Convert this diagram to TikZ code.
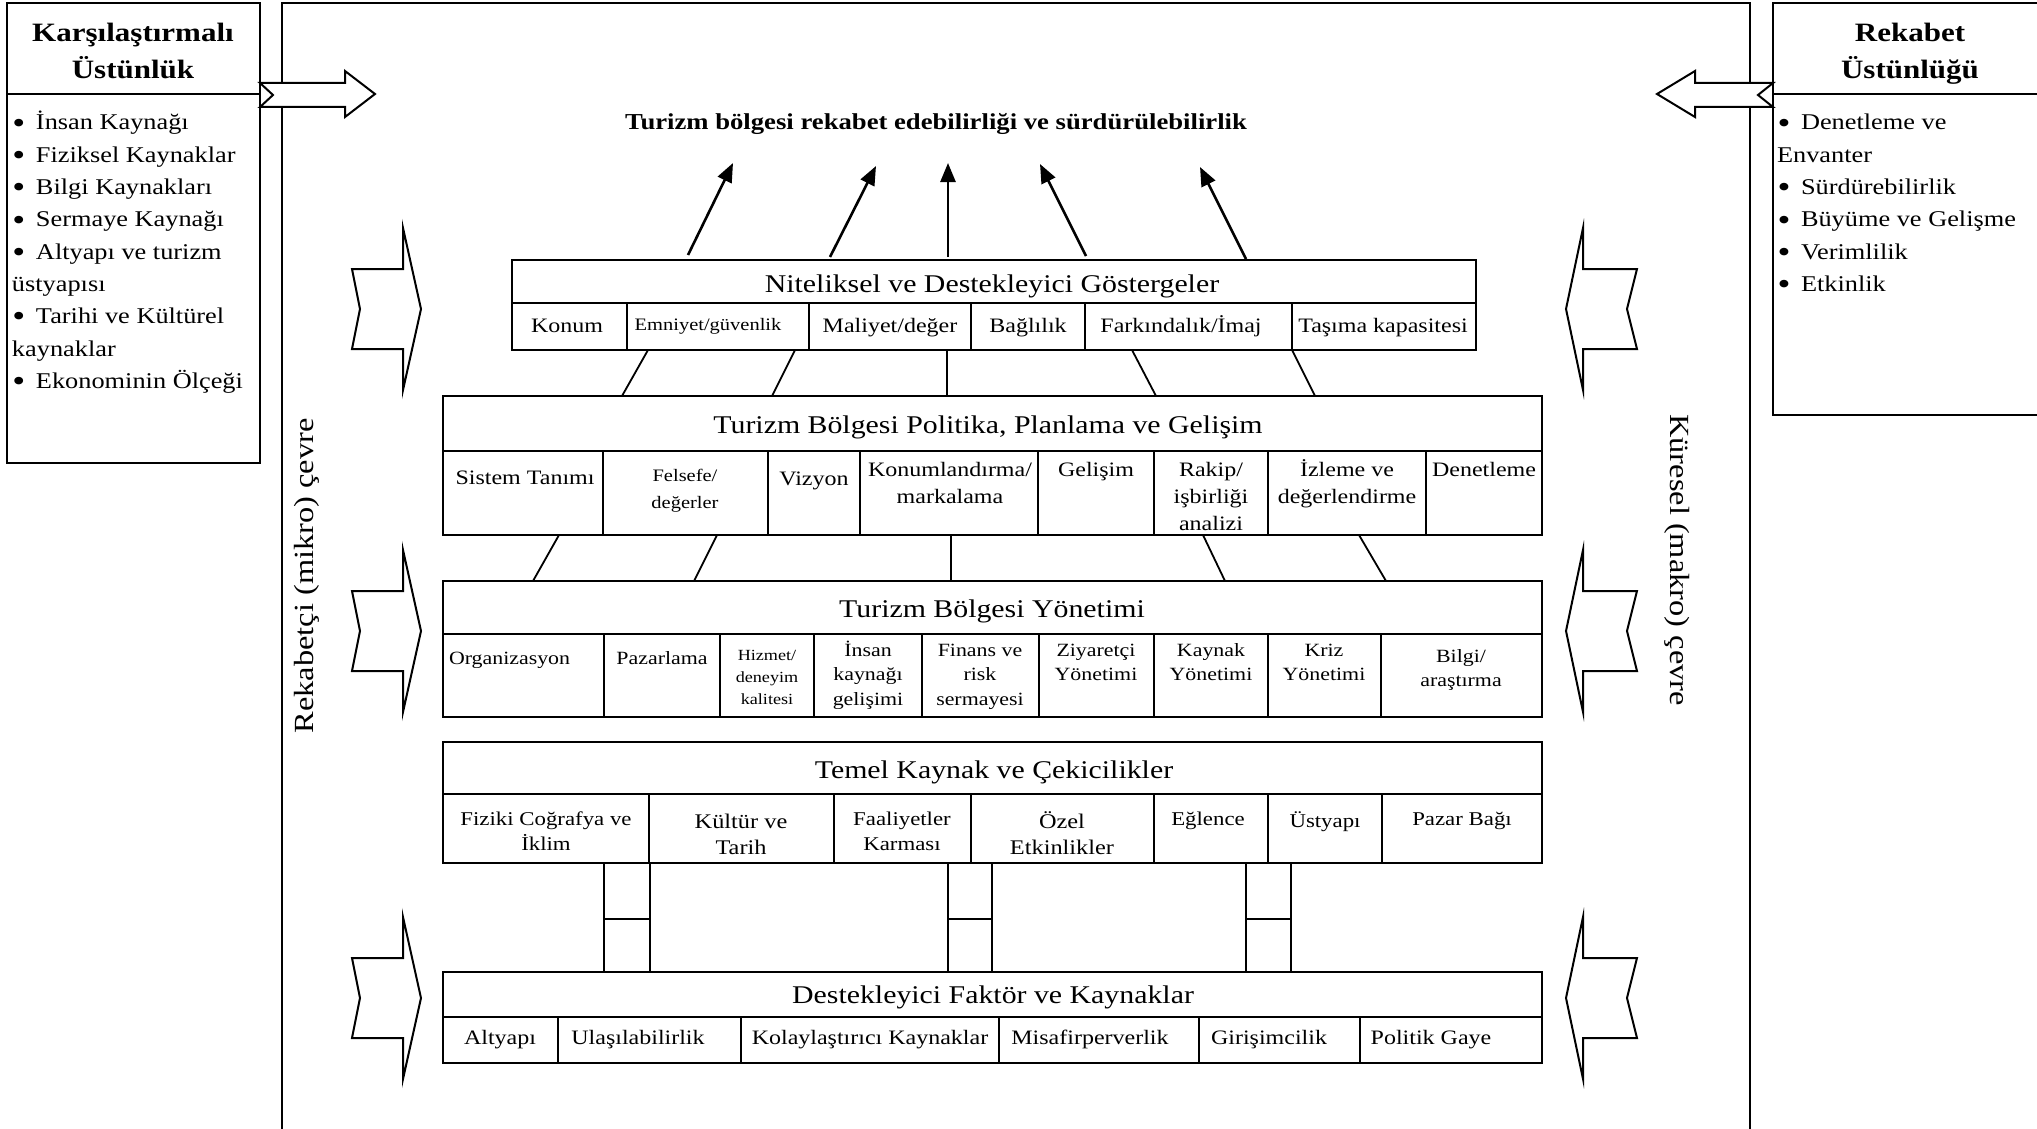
\documentclass[tikz,border=0pt]{standalone}
\usepackage{fontspec}
\usepackage{graphicx}
\setmainfont{Liberation Serif}[FakeStretch=1.17]
\usetikzlibrary{arrows.meta}

\newcommand\fsz[2]{\fontsize{#1pt}{#2pt}\selectfont}
\newcommand\ml[1]{\begin{tabular}[t]{@{}c@{}}#1\end{tabular}}
\newcommand\mll[1]{\begin{tabular}[t]{@{}l@{}}#1\end{tabular}}
\newcommand\bul{\makebox[24pt][l]{\hspace{0.5pt}\raisebox{-3.2pt}{\scalebox{1.4}{\textbullet}}}}
% a rectangular cell given by its corners (x1,y1) and (x2,y2)
\newcommand\cell[5]{\node[cellbox, minimum width={(#4-#2)*1pt}, minimum height={(#5-#3)*1pt}] (#1) at ({(#2+#4)/2},{(#3+#5)/2}) {};}

\tikzset{
  every node/.style={inner sep=0pt, outer sep=0pt},
  cellbox/.style={draw, line width=2.3pt},
  txt/.style={anchor=base, align=center},
  head/.style={txt, font=\fsz{25.5}{30}},
  item/.style={txt, font=\fsz{20.5}{27}},
  itemsm/.style={txt, font=\fsz{17.5}{27}},
  mgmt/.style={txt, font=\fsz{18.7}{24.5}},
  mgmtsm/.style={txt, font=\fsz{15.5}{22}},
  attr/.style={txt, font=\fsz{19.5}{25}},
  attrbig/.style={txt, font=\fsz{20.8}{26}},
  sidehead/.style={txt, font=\fsz{26.5}{37}\bfseries},
  listtxt/.style={anchor=base west, align=left, font=\fsz{22.5}{32.3}},
  vert/.style={font=\fsz{27.7}{32}},
  conn/.style={line width=1.8pt},
  up/.style={line width=2.6pt, -{Triangle[length=19pt,width=15pt]}},
  blk/.style={draw, fill=white, line width=2pt, line join=miter}
}

\begin{document}
\begin{tikzpicture}[x=1pt,y=-1pt]
\useasboundingbox (0,0) rectangle (2037,1129);

% environment frame
\node[cellbox, minimum width=1468pt, minimum height=1150pt, anchor=north west] (env) at (282,3) {};

% comparative advantage box
\cell{cat}{7}{3}{260}{94}
\cell{cal}{7}{94}{260}{463}
\node[sidehead] (catx) at (133,42) {\ml{Karşılaştırmalı\\Üstünlük}};
\node[listtxt] (calx) at (12,130) {\mll{\bul İnsan Kaynağı\\\bul Fiziksel Kaynaklar\\\bul Bilgi Kaynakları\\\bul Sermaye Kaynağı\\\bul Altyapı ve turizm\\üstyapısı\\\bul Tarihi ve Kültürel\\kaynaklar\\\bul Ekonominin Ölçeği}};

% competitive advantage box
\cell{rat}{1773}{3}{2060}{94}
\cell{ral}{1773}{94}{2060}{415}
\node[sidehead] (ratx) at (1910,42) {\ml{Rekabet\\Üstünlüğü}};
\node[listtxt] (ralx) at (1777,130) {\mll{\bul Denetleme ve\\Envanter\\\bul Sürdürebilirlik\\\bul Büyüme ve Gelişme\\\bul Verimlilik\\\bul Etkinlik}};

% block arrows at the top
\draw[blk] (260,83) -- (345,83) -- (345,71) -- (375,94) -- (345,117) -- (345,107) -- (260,107) -- (273,95) -- cycle;
\draw[blk] (1773,83) -- (1695,83) -- (1695,71) -- (1657,94) -- (1695,117) -- (1695,107) -- (1773,107) -- (1758,95) -- cycle;

% side block arrows
\foreach \c in {309,631,998}{
  \draw[blk] (352,\c-40) -- (403,\c-40) -- (403,\c-81) -- (421,\c) -- (403,\c+81) -- (403,\c+40) -- (352,\c+40) -- (360,\c) -- cycle;
  \draw[blk] (1637,\c-40) -- (1583,\c-40) -- (1583,\c-81) -- (1566,\c) -- (1583,\c+81) -- (1583,\c+40) -- (1637,\c+40) -- (1627,\c) -- cycle;
}

% environment labels
\node[vert, rotate=90] (micro) at (307,576) {Rekabetçi (mikro) çevre};
\node[vert, rotate=-90] (macro) at (1677,560) {Küresel (makro) çevre};

% goal
\node[txt, font=\fsz{22.8}{28}\bfseries] (goal) at (936,130) {Turizm bölgesi rekabet edebilirliği ve sürdürülebilirlik};

% qualifying and amplifying determinants
\cell{q}{512}{260}{1476}{303}
\cell{q1}{512}{303}{627}{350}
\cell{q2}{627}{303}{809}{350}
\cell{q3}{809}{303}{971}{350}
\cell{q4}{971}{303}{1085}{350}
\cell{q5}{1085}{303}{1292}{350}
\cell{q6}{1292}{303}{1476}{350}
\node[head] (qx) at (992,292) {Niteliksel ve Destekleyici Göstergeler};
\node[item] (q1x) at (567,332) {Konum};
\node[itemsm] (q2x) at (708,330) {Emniyet/güvenlik};
\node[item] (q3x) at (890,332) {Maliyet/değer};
\node[item] (q4x) at (1028,332) {Bağlılık};
\node[item] (q5x) at (1181,332) {Farkındalık/İmaj};
\node[item] (q6x) at (1383,332) {Taşıma kapasitesi};

% policy, planning and development
\cell{p}{443}{396}{1542}{451}
\cell{p1}{443}{451}{603}{535}
\cell{p2}{603}{451}{768}{535}
\cell{p3}{768}{451}{860}{535}
\cell{p4}{860}{451}{1038}{535}
\cell{p5}{1038}{451}{1154}{535}
\cell{p6}{1154}{451}{1268}{535}
\cell{p7}{1268}{451}{1426}{535}
\cell{p8}{1426}{451}{1542}{535}
\node[head] (px) at (988,433) {Turizm Bölgesi Politika, Planlama ve Gelişim};
\node[item] (p1x) at (525,484) {Sistem Tanımı};
\node[itemsm] (p2x) at (685,481) {\ml{Felsefe/\\değerler}};
\node[item] (p3x) at (814,485) {Vizyon};
\node[item] (p4x) at (950,476) {\ml{Konumlandırma/\\markalama}};
\node[item] (p5x) at (1096,476) {Gelişim};
\node[item] (p6x) at (1211,476) {\ml{Rakip/\\işbirliği\\analizi}};
\node[item] (p7x) at (1347,476) {\ml{İzleme ve\\değerlendirme}};
\node[item] (p8x) at (1484,476) {Denetleme};

% destination management
\cell{m}{443}{581}{1542}{634}
\cell{m1}{443}{634}{604}{717}
\cell{m2}{604}{634}{720}{717}
\cell{m3}{720}{634}{814}{717}
\cell{m4}{814}{634}{922}{717}
\cell{m5}{922}{634}{1039}{717}
\cell{m6}{1039}{634}{1154}{717}
\cell{m7}{1154}{634}{1268}{717}
\cell{m8}{1268}{634}{1381}{717}
\cell{m9}{1381}{634}{1542}{717}
\node[head] (mx) at (992,617) {Turizm Bölgesi Yönetimi};
\node[mgmt, anchor=base west] (m1x) at (449,664) {Organizasyon};
\node[mgmt] (m2x) at (662,664) {Pazarlama};
\node[mgmtsm] (m3x) at (767,660) {\ml{Hizmet/\\deneyim\\kalitesi}};
\node[mgmt] (m4x) at (868,656) {\ml{İnsan\\kaynağı\\gelişimi}};
\node[mgmt] (m5x) at (980,656) {\ml{Finans ve\\risk\\sermayesi}};
\node[mgmt] (m6x) at (1096,656) {\ml{Ziyaretçi\\Yönetimi}};
\node[mgmt] (m7x) at (1211,656) {\ml{Kaynak\\Yönetimi}};
\node[mgmt] (m8x) at (1324,656) {\ml{Kriz\\Yönetimi}};
\node[mgmt] (m9x) at (1461,662) {\ml{Bilgi/\\araştırma}};

% core resources and attractors
\cell{c}{443}{742}{1542}{794}
\cell{c1}{443}{794}{649}{863}
\cell{c2}{649}{794}{834}{863}
\cell{c3}{834}{794}{971}{863}
\cell{c4}{971}{794}{1154}{863}
\cell{c5}{1154}{794}{1268}{863}
\cell{c6}{1268}{794}{1382}{863}
\cell{c7}{1382}{794}{1542}{863}
\node[head] (cx) at (994,778) {Temel Kaynak ve Çekicilikler};
\node[attr] (c1x) at (546,825) {\ml{Fiziki Coğrafya ve\\İklim}};
\node[attrbig] (c2x) at (741,828) {\ml{Kültür ve\\Tarih}};
\node[attr] (c3x) at (902,825) {\ml{Faaliyetler\\Karması}};
\node[attrbig] (c4x) at (1062,828) {\ml{Özel\\Etkinlikler}};
\node[attr] (c5x) at (1208,825) {Eğlence};
\node[attr] (c6x) at (1325,827) {Üstyapı};
\node[attr] (c7x) at (1462,825) {Pazar Bağı};

% pillars
\cell{s1a}{604}{863}{650}{919}
\cell{s1b}{604}{919}{650}{972}
\cell{s2a}{948}{863}{992}{919}
\cell{s2b}{948}{919}{992}{972}
\cell{s3a}{1246}{863}{1291}{919}
\cell{s3b}{1246}{919}{1291}{972}

% supporting factors and resources
\cell{f}{443}{972}{1542}{1017}
\cell{f1}{443}{1017}{558}{1063}
\cell{f2}{558}{1017}{741}{1063}
\cell{f3}{741}{1017}{999}{1063}
\cell{f4}{999}{1017}{1199}{1063}
\cell{f5}{1199}{1017}{1360}{1063}
\cell{f6}{1360}{1017}{1542}{1063}
\node[head] (fx) at (993,1003) {Destekleyici Faktör ve Kaynaklar};
\node[item] (f1x) at (500,1044) {Altyapı};
\node[item] (f2x) at (638,1044) {Ulaşılabilirlik};
\node[item] (f3x) at (870,1044) {Kolaylaştırıcı Kaynaklar};
\node[item] (f4x) at (1090,1044) {Misafirperverlik};
\node[item] (f5x) at (1269,1044) {Girişimcilik};
\node[item] (f6x) at (1431,1044) {Politik Gaye};

% arrows to the goal
\coordinate (u1s) at (688,255); \coordinate (u1e) at (733,163);
\coordinate (u2s) at (830,257); \coordinate (u2e) at (876,166);
\coordinate (u3s) at (948,257); \coordinate (u3e) at (948,163);
\coordinate (u4s) at (1086,256); \coordinate (u4e) at (1040,164);
\coordinate (u5s) at (1246,259); \coordinate (u5e) at (1200,167);
\foreach \i in {1,...,5}{\draw[up] (u\i s) -- (u\i e);}

% links between policy and determinants
\coordinate (a1t) at (648,350); \coordinate (a1b) at (622,396);
\coordinate (a2t) at (795,350); \coordinate (a2b) at (772,396);
\coordinate (a3t) at (947,350); \coordinate (a3b) at (947,396);
\coordinate (a4t) at (1132,350); \coordinate (a4b) at (1156,396);
\coordinate (a5t) at (1292,350); \coordinate (a5b) at (1315,396);
% links between management and policy
\coordinate (b1t) at (559,535); \coordinate (b1b) at (533,581);
\coordinate (b2t) at (717,535); \coordinate (b2b) at (694,581);
\coordinate (b3t) at (951,535); \coordinate (b3b) at (951,581);
\coordinate (b4t) at (1203,535); \coordinate (b4b) at (1225,581);
\coordinate (b5t) at (1359,535); \coordinate (b5b) at (1386,581);
\foreach \i in {1,...,5}{
  \draw[conn] (a\i t) -- (a\i b);
  \draw[conn] (b\i t) -- (b\i b);
}
\end{tikzpicture}
\end{document}
